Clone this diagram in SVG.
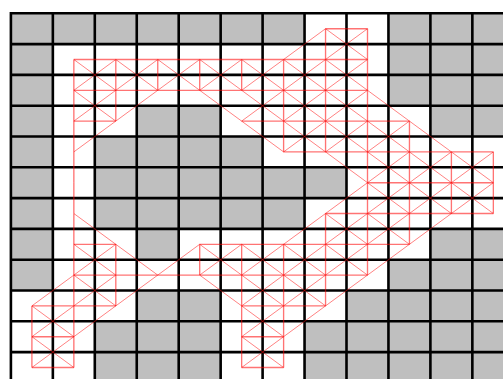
<svg xmlns="http://www.w3.org/2000/svg" width="503" height="379" viewBox="0 0 503 379">
<style>
.c{fill:#bfbfbf}
.g{stroke:#000;stroke-width:2.6;fill:none}
.r{stroke:#ff0000;opacity:.55;stroke-width:1.35;fill:none}
.s{stroke:#ff0000;opacity:.55;stroke-width:.9;fill:none}
</style>
<defs>
<path id="h" class="r" d="M0 0H41.95"/>
<path id="v" class="r" d="M0 0V30.8"/>
<path id="x" class="s" d="M0 0L41.95 30.8M41.95 0L0 30.8"/>
<path id="d" class="s" d="M0 0L41.95 30.8"/>
<path id="a" class="s" d="M41.95 0L0 30.8"/>
</defs>
<rect width="503" height="379" fill="#fff"/>
<g id="cells" class="c">
<path d="M10.9 13.3H304.55V44.1H10.9ZM388.45 13.3H503V105.7H388.45ZM10.9 44.1H52.85V290.5H10.9ZM136.75 105.7H220.65V136.5H136.75ZM430.4 105.7H503V136.5H430.4ZM94.8 136.5H262.6V167.3H94.8ZM94.8 167.3H346.5V198.1H94.8ZM94.8 198.1H304.55V228.9H94.8ZM136.75 228.9H178.7V259.7H136.75ZM430.4 228.9H503V259.7H430.4ZM388.45 259.7H503V290.5H388.45ZM136.75 290.5H220.65V321.3H136.75ZM346.5 290.5H503V321.3H346.5ZM94.8 321.3H220.65V379H94.8ZM304.55 321.3H503V379H304.55Z"/>
</g>
<g id="grid" class="g">
<path d="M10.9 12V379M52.85 13.3V379M94.8 13.3V379M136.75 13.3V379M178.7 13.3V379M220.65 13.3V379M262.6 13.3V379M304.55 13.3V379M346.5 13.3V379M388.45 13.3V379M430.4 13.3V379M472.35 13.3V379"/>
<path d="M10.9 13.3H503M10.9 44.1H503M10.9 74.9H503M10.9 105.7H503M10.9 136.5H503M10.9 167.3H503M10.9 198.1H503M10.9 228.9H503M10.9 259.7H503M10.9 290.5H503M10.9 321.3H503M10.9 352.1H503"/>
</g>
<g id="connectors">
<g transform="translate(0 28.7)">
<use href="#h" x="325.55"/>
<use href="#v" x="325.55"/><use href="#v" x="367.5"/>
<use href="#x" x="325.55"/><use href="#a" x="283.6"/>
</g>
<g transform="translate(0 59.5)">
<use href="#h" x="73.85"/><use href="#h" x="115.8"/><use href="#h" x="157.75"/><use href="#h" x="199.7"/><use href="#h" x="241.65"/><use href="#h" x="283.6"/><use href="#h" x="325.55"/>
<use href="#v" x="73.85"/><use href="#v" x="115.8"/><use href="#v" x="157.75"/><use href="#v" x="199.7"/><use href="#v" x="241.65"/><use href="#v" x="283.6"/><use href="#v" x="325.55"/><use href="#v" x="367.5"/>
<use href="#x" x="73.85"/><use href="#x" x="115.8"/><use href="#x" x="157.75"/><use href="#x" x="199.7"/><use href="#x" x="241.65"/><use href="#x" x="283.6"/><use href="#x" x="325.55"/>
</g>
<g transform="translate(0 90.3)">
<use href="#h" x="73.85"/><use href="#h" x="115.8"/><use href="#h" x="157.75"/><use href="#h" x="199.7"/><use href="#h" x="241.65"/><use href="#h" x="283.6"/><use href="#h" x="325.55"/>
<use href="#v" x="73.85"/><use href="#v" x="115.8"/><use href="#v" x="283.6"/><use href="#v" x="325.55"/><use href="#v" x="367.5"/>
<use href="#x" x="73.85"/><use href="#x" x="241.65"/><use href="#x" x="283.6"/><use href="#x" x="325.55"/>
<use href="#a" x="115.8"/><use href="#d" x="199.7"/><use href="#d" x="367.5"/>
</g>
<g transform="translate(0 121.1)">
<use href="#h" x="73.85"/><use href="#h" x="241.65"/><use href="#h" x="283.6"/><use href="#h" x="325.55"/><use href="#h" x="367.5"/>
<use href="#v" x="73.85"/><use href="#v" x="283.6"/><use href="#v" x="325.55"/><use href="#v" x="367.5"/><use href="#v" x="409.45"/>
<use href="#x" x="283.6"/><use href="#x" x="325.55"/><use href="#x" x="367.5"/>
<use href="#a" x="73.85"/><use href="#d" x="241.65"/><use href="#d" x="409.45"/>
</g>
<g transform="translate(0 151.9)">
<use href="#h" x="283.6"/><use href="#h" x="325.55"/><use href="#h" x="367.5"/><use href="#h" x="409.45"/><use href="#h" x="451.4"/>
<use href="#v" x="73.85"/><use href="#v" x="367.5"/><use href="#v" x="409.45"/><use href="#v" x="451.4"/><use href="#v" x="493.35"/>
<use href="#x" x="367.5"/><use href="#x" x="409.45"/><use href="#x" x="451.4"/>
<use href="#d" x="325.55"/>
</g>
<g transform="translate(0 182.7)">
<use href="#h" x="367.5"/><use href="#h" x="409.45"/><use href="#h" x="451.4"/>
<use href="#v" x="73.85"/><use href="#v" x="367.5"/><use href="#v" x="409.45"/><use href="#v" x="451.4"/><use href="#v" x="493.35"/>
<use href="#x" x="367.5"/><use href="#x" x="409.45"/><use href="#x" x="451.4"/>
<use href="#a" x="325.55"/>
</g>
<g transform="translate(0 213.5)">
<use href="#h" x="325.55"/><use href="#h" x="367.5"/><use href="#h" x="409.45"/><use href="#h" x="451.4"/>
<use href="#v" x="73.85"/><use href="#v" x="325.55"/><use href="#v" x="367.5"/><use href="#v" x="409.45"/>
<use href="#x" x="325.55"/><use href="#x" x="367.5"/>
<use href="#a" x="283.6"/><use href="#a" x="409.45"/><use href="#d" x="73.85"/>
</g>
<g transform="translate(0 244.3)">
<use href="#h" x="73.85"/><use href="#h" x="199.7"/><use href="#h" x="241.65"/><use href="#h" x="283.6"/><use href="#h" x="325.55"/><use href="#h" x="367.5"/>
<use href="#v" x="73.85"/><use href="#v" x="115.8"/><use href="#v" x="199.7"/><use href="#v" x="241.65"/><use href="#v" x="283.6"/><use href="#v" x="325.55"/><use href="#v" x="367.5"/>
<use href="#x" x="73.85"/><use href="#x" x="199.7"/><use href="#x" x="241.65"/><use href="#x" x="283.6"/><use href="#x" x="325.55"/>
<use href="#a" x="157.75"/><use href="#a" x="367.5"/><use href="#d" x="115.8"/>
</g>
<g transform="translate(0 275.1)">
<use href="#h" x="73.85"/><use href="#h" x="115.8"/><use href="#h" x="157.75"/><use href="#h" x="199.7"/><use href="#h" x="241.65"/><use href="#h" x="283.6"/><use href="#h" x="325.55"/>
<use href="#v" x="73.85"/><use href="#v" x="115.8"/><use href="#v" x="241.65"/><use href="#v" x="283.6"/><use href="#v" x="325.55"/>
<use href="#x" x="73.85"/><use href="#x" x="241.65"/><use href="#x" x="283.6"/>
<use href="#a" x="31.9"/><use href="#a" x="115.8"/><use href="#a" x="325.55"/><use href="#d" x="199.7"/>
</g>
<g transform="translate(0 305.9)">
<use href="#h" x="31.9"/><use href="#h" x="73.85"/><use href="#h" x="241.65"/><use href="#h" x="283.6"/>
<use href="#v" x="31.9"/><use href="#v" x="73.85"/><use href="#v" x="241.65"/><use href="#v" x="283.6"/>
<use href="#x" x="31.9"/><use href="#x" x="241.65"/>
<use href="#a" x="73.85"/><use href="#a" x="283.6"/>
</g>
<g transform="translate(0 336.7)">
<use href="#h" x="31.9"/><use href="#h" x="241.65"/>
<use href="#v" x="31.9"/><use href="#v" x="73.85"/><use href="#v" x="241.65"/><use href="#v" x="283.6"/>
<use href="#x" x="31.9"/><use href="#x" x="241.65"/>
</g>
<g transform="translate(0 367.5)">
<use href="#h" x="31.9"/><use href="#h" x="241.65"/>
</g>
</g>
</svg>
